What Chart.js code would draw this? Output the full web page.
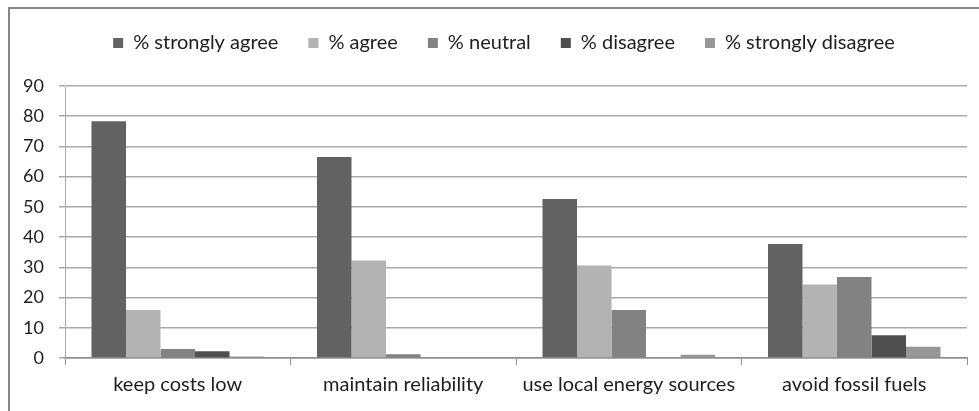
<!DOCTYPE html>
<html>
<head>
<meta charset="utf-8">
<script src="https://cdn.jsdelivr.net/npm/chart.js@4/dist/chart.umd.min.js"></script>
<style>
  html, body { margin: 0; padding: 0; background: #fff; }
  #wrap { width: 979px; height: 411px; position: relative; }
</style>
</head>
<body>
<div id="wrap"><canvas id="c" width="979" height="411"></canvas></div>
<script>
// Survey priorities: share of respondents per answer, by goal
const categories = ['keep costs low', 'maintain reliability', 'use local energy sources', 'avoid fossil fuels'];
const seriesNames = ['% strongly agree', '% agree', '% neutral', '% disagree', '% strongly disagree'];
const stronglyAgree    = [78.3, 66.5, 52.6, 37.7];
const agree            = [15.9, 32.3, 30.6, 24.3];
const neutral          = [3.0, 1.2, 15.9, 26.8];
const disagree         = [2.2, 0, 0, 7.5];
const stronglyDisagree = [0.5, 0, 1.1, 3.7];
const yTicks = [0, 10, 20, 30, 40, 50, 60, 70, 80, 90];

const seriesColors = ['#626262', '#b3b3b3', '#828282', '#4f4f4f', '#979797'];
const seriesValues = [stronglyAgree, agree, neutral, disagree, stronglyDisagree];

const FONT = 'Lato, "Open Sans", sans-serif';

// Frame line along the top and left edges; legend spacing and centring over the plot
const framePlugin = {
  id: 'frame',
  beforeLayout(chart) {
    const lg = chart.legend;
    if (lg && !lg._extraGap) {
      const fit = lg.fit.bind(lg);
      lg.fit = function () { fit(); this.height += 23; };
      lg._extraGap = true;
    }
  },
  afterLayout(chart) {
    if (chart.legend) chart.legend.left += 41;
  },
  beforeDraw(chart) {
    const ctx = chart.ctx;
    ctx.save();
    ctx.strokeStyle = '#878787';
    ctx.lineWidth = 2;
    ctx.beginPath();
    ctx.moveTo(9, 411);
    ctx.lineTo(9, 8);
    ctx.lineTo(979, 8);
    ctx.stroke();
    ctx.restore();
  }
};

new Chart(document.getElementById('c'), {
  type: 'bar',
  data: {
    labels: categories,
    datasets: seriesNames.map((name, i) => ({
      label: name,
      data: seriesValues[i],
      backgroundColor: seriesColors[i],
      borderWidth: 0,
      categoryPercentage: 0.765,
      barPercentage: 1.0
    }))
  },
  options: {
    responsive: false,
    animation: false,
    devicePixelRatio: 1,
    layout: { padding: { top: 3, right: 12, left: 0, bottom: 0 } },
    plugins: {
      legend: {
        position: 'top',
        labels: {
          font: { family: FONT, size: 20 },
          color: '#1e1e1e',
          boxWidth: 10,
          boxHeight: 10,
          padding: 30
        }
      },
      tooltip: { enabled: false }
    },
    scales: {
      x: {
        grid: {
          display: true,
          drawOnChartArea: false,
          drawTicks: true,
          tickLength: 7,
          color: '#8c8c8c',
          offset: true
        },
        border: { display: true, color: '#8c8c8c', width: 1.5 },
        ticks: {
          font: { family: FONT, size: 20 },
          color: '#1e1e1e',
          padding: 8
        },
        afterFit(s) { s.height = 411 - 358; }
      },
      y: {
        min: 0,
        max: 90,
        afterBuildTicks(s) { s.ticks = yTicks.map(v => ({ value: v })); },
        grid: {
          color: '#a9a9a9',
          lineWidth: 1.5,
          drawTicks: true,
          tickLength: 6
        },
        border: { display: true, color: '#a9a9a9', width: 1 },
        ticks: {
          font: { family: FONT, size: 18 },
          color: '#1e1e1e',
          padding: 15
        },
        afterFit(s) { s.width = 65; }
      }
    }
  },
  plugins: [framePlugin]
});
</script>
</body>
</html>
